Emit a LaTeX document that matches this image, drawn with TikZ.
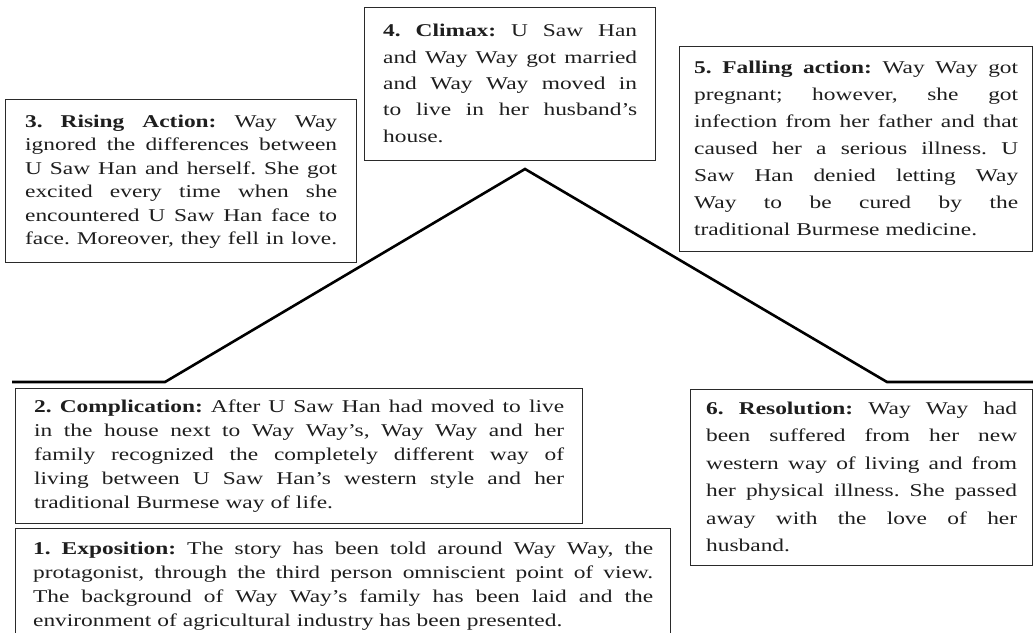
\documentclass[tikz,border=0pt]{standalone}
\usepackage{fontspec}
\setmainfont{Liberation Serif}[FakeStretch=1.3]
\newlength\pltw
\newcommand\plj[1]{\makebox[\pltw][s]{\spaceskip=0.25em plus 1fil\xspaceskip=0.25em plus 1fil\relax\strut#1}\par}
\newcommand\pll[1]{\makebox[\pltw][l]{\strut#1}\par}
\definecolor{txt}{HTML}{1E1E1E}
\definecolor{boxgray}{HTML}{2A2A2A}
\tikzset{
  plotbox/.style={draw=boxgray, line width=1.3pt, fill=white, anchor=north west,
    inner sep=0pt, text=txt, font=\fontsize{18}{#1}\selectfont\frenchspacing},
  tw/.style={text width=#1, execute at begin node={\setlength\pltw{#1}}},
  plotline/.style={draw=black, line width=2.6pt, line join=miter}
}
\begin{document}
\begin{tikzpicture}[x=1pt,y=-1pt]
\useasboundingbox (0,0) rectangle (1033,632);
\clip (0,0) rectangle (1033,632);
\fill[white] (0,0) rectangle (1033,632);

% plot line
\coordinate (m0) at (12,382);
\coordinate (m1) at (165,382);
\coordinate (peak) at (525,169);
\coordinate (m3) at (887,382);
\coordinate (m4) at (1034,382);
\draw[plotline] (m0) -- (m1) -- (peak) -- (m3) -- (m4);

% 4. Climax
\node[plotbox=26.3, minimum width=291pt, minimum height=153pt, tw=254pt] (climax) at (364,7) {%
\plj{\textbf{4. Climax:} U Saw Han}
\plj{and Way Way got married}
\plj{and Way Way moved in}
\plj{to live in her husband’s}
\pll{house.}};

% 3. Rising Action
\node[plotbox=23.5, minimum width=351pt, minimum height=163pt, tw=312pt] (rising) at (5,99) {%
\plj{\textbf{3. Rising Action:} Way Way}
\plj{ignored the differences between}
\plj{U Saw Han and herself. She got}
\plj{excited every time when she}
\plj{encountered U Saw Han face to}
\plj{face. Moreover, they fell in love.}};

% 5. Falling action
\node[plotbox=27, minimum width=353pt, minimum height=205pt, tw=324pt] (falling) at (679,46) {%
\plj{\textbf{5. Falling action:} Way Way got}
\plj{pregnant; however, she got}
\plj{infection from her father and that}
\plj{caused her a serious illness. U}
\plj{Saw Han denied letting Way}
\plj{Way to be cured by the}
\pll{traditional Burmese medicine.}};

% 2. Complication
\node[plotbox=24, minimum width=567pt, minimum height=135pt, tw=530pt] (complication) at (15,388) {%
\plj{\textbf{2. Complication:} After U Saw Han had moved to live}
\plj{in the house next to Way Way’s, Way Way and her}
\plj{family recognized the completely different way of}
\plj{living between U Saw Han’s western style and her}
\pll{traditional Burmese way of life.}};

% 1. Exposition
\node[plotbox=24, minimum width=655pt, minimum height=114pt, tw=620pt] (exposition) at (15,528) {%
\plj{\textbf{1. Exposition:} The story has been told around Way Way, the}
\plj{protagonist, through the third person omniscient point of view.}
\plj{The background of Way Way’s family has been laid and the}
\pll{environment of agricultural industry has been presented.}};

% 6. Resolution
\node[plotbox=27.5, minimum width=342pt, minimum height=176pt, tw=311pt] (resolution) at (690,389) {%
\plj{\textbf{6. Resolution:} Way Way had}
\plj{been suffered from her new}
\plj{western way of living and from}
\plj{her physical illness. She passed}
\plj{away with the love of her}
\pll{husband.}};
\end{tikzpicture}
\end{document}
